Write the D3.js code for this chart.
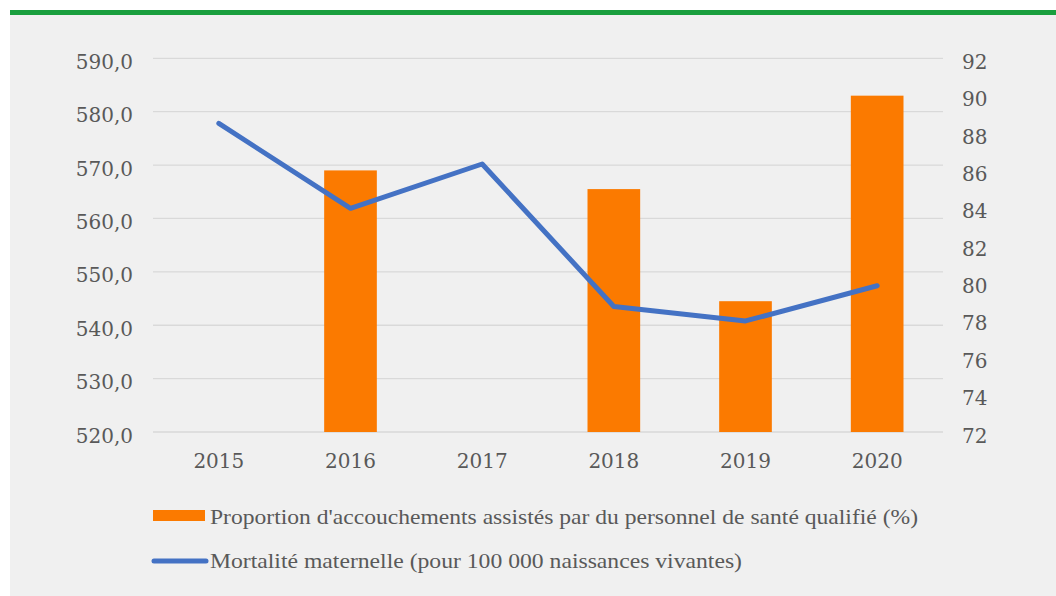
<!DOCTYPE html>
<html>
<head>
	<meta charset="utf-8">
	<title>Mortalité maternelle et accouchements assistés</title>
	<script src="https://d3js.org/d3.v7.min.js"></script>
	<style type="text/css">
		body {
			margin: 0;
			padding: 0;
			background: #fff;
		}
		svg { display: block; }
		.tick-label { font-family: "DejaVu Serif", serif; font-size: 20px; fill: #595959; }
		.legend-label { font-family: "Liberation Serif", serif; font-size: 22px; fill: #595959; }
	</style>
</head>
<body>
<div id="chart"></div>
<script>

// values
var years = ["2015", "2016", "2017", "2018", "2019", "2020"];
var proportion = [null, 86, null, 85, 79, 90];              // % (right axis, bars)
var mortality = [577.8, 561.9, 570.2, 543.5, 540.8, 547.4]; // per 100 000 (left axis, line)
var leftTicks = [520, 530, 540, 550, 560, 570, 580, 590];
var rightTicks = [72, 74, 76, 78, 80, 82, 84, 86, 88, 90, 92];
var legendNames = [
	"Proportion d'accouchements assistés par du personnel de santé qualifié (%)",
	"Mortalité maternelle (pour 100 000 naissances vivantes)"
];

function drawChart() {
var W = 1056, H = 596;
var pl = 153, pr = 943, pt = 58.3, pb = 432;

var svg = d3.select("#chart").append("svg")
	.attr("width", W)
	.attr("height", H);

// panel + green top rule
svg.append("rect").attr("x", 10).attr("y", 10).attr("width", W - 10).attr("height", H - 10).attr("fill", "#f0f0f0");
svg.append("rect").attr("x", 10).attr("y", 10).attr("width", W - 10).attr("height", 5).attr("fill", "#1a9f3e");

var x = d3.scaleBand().domain(years).range([pl, pr]).paddingInner(0.6).paddingOuter(0.3);
var yL = d3.scaleLinear().domain([520, 590]).range([pb, pt]);
var yR = d3.scaleLinear().domain([72, 92]).range([pb, pt]);

var fr = d3.formatLocale({ decimal: ",", thousands: " ", grouping: [3], currency: ["", "€"] });
var fmt1 = fr.format(".1f");

// gridlines
svg.append("g").selectAll("line")
	.data(leftTicks)
	.enter().append("line")
	.attr("x1", pl).attr("x2", pr)
	.attr("y1", function(d) { return yL(d); })
	.attr("y2", function(d) { return yL(d); })
	.attr("stroke", "#d9d9d9")
	.attr("stroke-width", 1.3);

// left axis
var axL = svg.append("g")
	.attr("transform", "translate(" + (pl - 20) + ",0)")
	.call(d3.axisLeft(yL).tickValues(leftTicks).tickFormat(fmt1).tickSize(0).tickPadding(0));
axL.select(".domain").remove();
axL.selectAll("text").attr("class", "tick-label").attr("dy", "0.5em").attr("fill", null);

// right axis
var axR = svg.append("g")
	.attr("transform", "translate(962,0)")
	.call(d3.axisRight(yR).tickValues(rightTicks).tickSize(0).tickPadding(0));
axR.select(".domain").remove();
axR.selectAll("text").attr("class", "tick-label").attr("dy", "0.5em").attr("fill", null);

// x axis
var axX = svg.append("g")
	.attr("transform", "translate(0," + pb + ")")
	.call(d3.axisBottom(x).tickSize(0).tickPadding(22));
axX.select(".domain").remove();
axX.selectAll("text").attr("class", "tick-label").attr("fill", null);

// bars
var barData = years.map(function(y, i) { return { year: y, v: proportion[i] }; })
	.filter(function(d) { return d.v != null; });

svg.append("g").selectAll("rect")
	.data(barData)
	.enter().append("rect")
	.attr("x", function(d) { return x(d.year); })
	.attr("width", x.bandwidth())
	.attr("y", function(d) { return yR(d.v); })
	.attr("height", function(d) { return pb - yR(d.v); })
	.attr("fill", "#fb7a00");

// line
var lineData = years.map(function(y, i) { return { year: y, v: mortality[i] }; });
var line = d3.line()
	.x(function(d) { return x(d.year) + x.bandwidth() / 2; })
	.y(function(d) { return yL(d.v); });

svg.append("path")
	.datum(lineData)
	.attr("d", line)
	.attr("fill", "none")
	.attr("stroke", "#4472c4")
	.attr("stroke-width", 5)
	.attr("stroke-linejoin", "round")
	.attr("stroke-linecap", "round");

// legend
var lg = svg.append("g");
lg.append("rect").attr("x", 153).attr("y", 510).attr("width", 52).attr("height", 11).attr("fill", "#fb7a00");
lg.append("line").attr("x1", 154).attr("x2", 206).attr("y1", 561).attr("y2", 561)
	.attr("stroke", "#4472c4").attr("stroke-width", 5).attr("stroke-linecap", "round");

lg.append("text").attr("class", "legend-label").attr("x", 210).attr("y", 524)
	.attr("textLength", 708).attr("lengthAdjust", "spacingAndGlyphs").text(legendNames[0]);
lg.append("text").attr("class", "legend-label").attr("x", 210).attr("y", 568)
	.attr("textLength", 532).attr("lengthAdjust", "spacingAndGlyphs").text(legendNames[1]);
}

drawChart();

</script>
</body>
</html>
